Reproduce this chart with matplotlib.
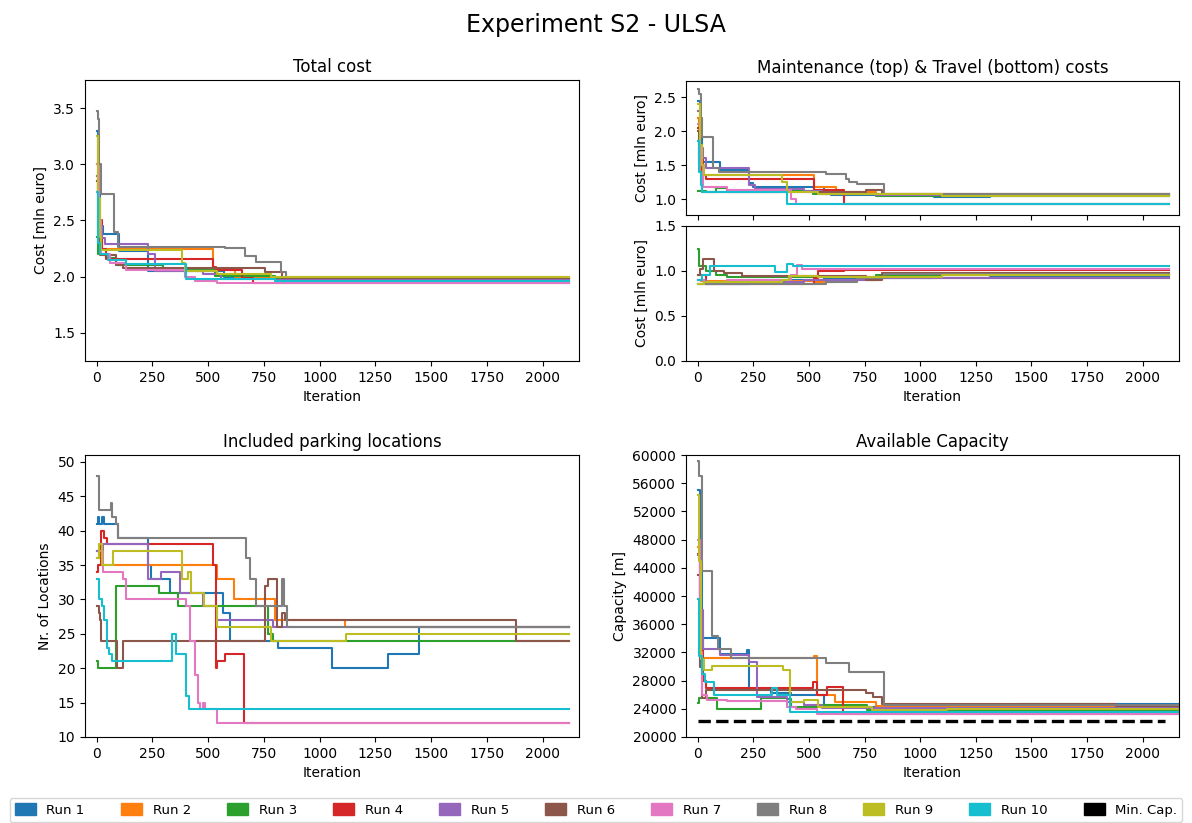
import matplotlib
matplotlib.use("Agg")
import matplotlib.pyplot as plt
import matplotlib.patches as mpatches
from matplotlib.ticker import MultipleLocator

# ---------------------------------------------------------------------------
# Best-so-far traces of the ten ULSA runs, stored as step breakpoints
# (iteration where the value changes, new value).
# ---------------------------------------------------------------------------
run_labels = [f"Run {i}" for i in range(1, 11)]
run_colors = [f"C{i}" for i in range(10)]
last_iter = 2118
cap_end_iter = 2200
min_capacity = 22300
min_cap_end = 2100

# Total cost [mln euro]
total_iters = [
    [0, 8, 15, 30, 102, 232, 570, 800],
    [0, 8, 15, 523, 620, 800],
    [0, 5, 40, 85, 300, 530, 800],
    [0, 10, 25, 42, 523, 535, 654, 700],
    [0, 10, 25, 37, 232, 260, 478, 560, 800],
    [0, 8, 15, 85, 120, 755, 830],
    [0, 10, 20, 60, 130, 396, 440, 540],
    [0, 5, 10, 20, 64, 80, 97, 575, 665, 717, 829, 851],
    [0, 8, 15, 22, 381, 395, 540, 780],
    [0, 5, 15, 50, 130, 403, 800],
]
total_vals = [
    [3.30, 2.75, 2.45, 2.38, 2.23, 2.05, 2.00, 1.975],
    [2.90, 2.40, 2.25, 2.06, 2.00, 1.99],
    [2.35, 2.20, 2.17, 2.10, 2.06, 2.01, 1.98],
    [3.00, 2.50, 2.25, 2.16, 2.09, 2.055, 1.99, 1.94],
    [2.90, 2.45, 2.34, 2.29, 2.20, 2.05, 2.02, 1.98, 1.97],
    [2.85, 2.40, 2.19, 2.10, 2.08, 2.04, 1.99],
    [3.00, 2.50, 2.20, 2.12, 2.06, 2.00, 1.96, 1.94],
    [3.47, 3.40, 3.00, 2.74, 2.74, 2.40, 2.265, 2.255, 2.18, 2.13, 2.04, 1.995],
    [3.25, 2.70, 2.35, 2.24, 2.12, 2.05, 2.02, 1.995],
    [2.75, 2.30, 2.20, 2.15, 2.11, 1.975, 1.965],
]

# Maintenance cost [mln euro]
maint_iters = [
    [0, 10, 22, 102, 232, 250, 570, 600, 1060, 1315],
    [0, 8, 15, 523, 620, 800],
    [0, 40, 85, 130, 380, 520, 800],
    [0, 10, 25, 37, 523, 657],
    [0, 10, 25, 40, 232, 260, 478, 560, 800],
    [0, 8, 20, 755, 830],
    [0, 10, 25, 130, 420, 440],
    [0, 8, 15, 22, 64, 70, 97, 575, 665, 680, 717, 837],
    [0, 10, 20, 30, 381, 400, 540, 1100],
    [0, 8, 15, 22, 403],
]
maint_vals = [
    [2.45, 1.90, 1.54, 1.43, 1.23, 1.18, 1.10, 1.06, 1.03, 1.05],
    [2.20, 1.60, 1.36, 1.18, 1.10, 1.07],
    [1.12, 1.11, 1.16, 1.10, 1.12, 1.08, 1.05],
    [2.05, 1.60, 1.35, 1.29, 1.13, 0.93],
    [2.30, 1.75, 1.60, 1.45, 1.20, 1.15, 1.12, 1.08, 1.06],
    [2.00, 1.50, 1.10, 1.14, 1.08],
    [2.10, 1.50, 1.17, 1.13, 1.00, 0.93],
    [2.62, 2.55, 2.20, 1.92, 1.92, 1.45, 1.40, 1.37, 1.30, 1.25, 1.22, 1.08],
    [2.40, 1.80, 1.50, 1.36, 1.25, 1.11, 1.08, 1.05],
    [1.85, 1.40, 1.20, 1.10, 0.93],
]

# Travel cost [mln euro]
travel_iters = [
    [0, 30, 232, 570, 1060, 1315],
    [0, 15, 523, 620, 800],
    [0, 5, 40, 85, 130, 800],
    [0, 37, 523, 543, 657],
    [0, 40, 232, 478, 800],
    [0, 10, 25, 72, 120, 200, 755, 830],
    [0, 30, 130, 420, 445, 470],
    [0, 64, 97, 575, 717, 837],
    [0, 30, 381, 410, 540, 1100],
    [0, 20, 57, 350, 403, 430],
]
travel_vals = [
    [0.85, 0.85, 0.90, 0.92, 0.95, 0.94],
    [0.90, 0.89, 0.88, 0.90, 0.92],
    [1.24, 1.05, 1.00, 0.95, 0.93, 0.95],
    [0.95, 0.86, 0.92, 1.00, 1.01],
    [0.90, 0.86, 0.88, 0.90, 0.92],
    [0.95, 1.02, 1.13, 1.00, 0.98, 0.94, 0.90, 0.975],
    [0.90, 0.88, 0.90, 0.96, 1.07, 1.025],
    [0.85, 0.85, 0.86, 0.88, 0.92, 0.97],
    [0.85, 0.88, 0.90, 0.94, 0.93, 0.95],
    [0.90, 0.95, 1.05, 0.99, 1.08, 1.055],
]

# Number of included parking locations
loc_iters = [
    [0, 5, 12, 25, 35, 97, 232, 245, 330, 568, 598, 815, 1056, 1307, 1446],
    [0, 20, 541, 617, 800, 1113],
    [0, 5, 85, 280, 363, 770, 790],
    [0, 8, 20, 35, 45, 520, 535, 540, 578, 660],
    [0, 30, 232, 291, 374, 478, 540, 790],
    [0, 10, 15, 22, 90, 120, 755, 770, 810, 830, 845, 1882],
    [0, 10, 30, 120, 134, 400, 420, 440, 455, 465, 475, 485, 538],
    [0, 10, 64, 70, 85, 97, 672, 690, 717, 830, 840, 852],
    [0, 10, 25, 75, 381, 410, 425, 480, 538, 784, 1120],
    [0, 10, 25, 35, 45, 55, 70, 336, 355, 403, 414],
]
loc_vals = [
    [41, 42, 41, 42, 41, 39, 35, 33, 31, 28, 24, 23, 20, 22, 26],
    [37, 35, 33, 30, 27, 26],
    [21, 20, 32, 31, 29, 25, 24],
    [34, 35, 40, 39, 38, 35, 20, 21, 22, 12],
    [37, 38, 33, 34, 31, 29, 27, 26],
    [29, 28, 27, 24, 20, 24, 32, 33, 26, 28, 27, 24],
    [36, 37, 34, 33, 30, 29, 24, 19, 15, 14, 15, 14, 12],
    [48, 43, 44, 42, 41, 39, 36, 33, 29, 33, 29, 26],
    [36, 38, 35, 37, 33, 34, 31, 29, 26, 24, 25],
    [33, 30, 29, 27, 23, 22, 21, 25, 22, 16, 14],
]

# Available capacity [m]
cap_iters = [
    [0, 10, 22, 100, 220, 232, 330, 420, 570, 800, 1446],
    [0, 10, 15, 523, 535, 617, 800],
    [0, 5, 87, 283, 400, 420, 560, 760],
    [0, 10, 25, 37, 520, 535, 580, 655],
    [0, 10, 25, 100, 232, 266, 400, 480, 560],
    [0, 10, 20, 37, 755, 790, 830, 1882],
    [0, 10, 20, 42, 130, 400, 440, 538],
    [0, 8, 20, 64, 90, 150, 575, 680, 837],
    [0, 8, 15, 30, 64, 386, 415, 480, 540, 784, 1120],
    [0, 8, 20, 35, 72, 333, 356, 415],
]
cap_vals = [
    [55000, 45000, 34000, 31800, 32400, 26800, 26200, 25900, 24300, 23900, 24700],
    [47000, 33000, 31200, 31500, 26000, 25000, 24400],
    [24800, 25500, 24000, 25600, 25400, 24300, 24500, 23800],
    [46000, 35000, 28000, 26900, 27800, 25900, 27100, 23200],
    [45800, 38000, 32500, 31600, 30600, 25700, 25000, 24500, 24100],
    [43000, 30000, 25600, 26700, 26200, 25700, 24700, 24400],
    [47900, 32000, 26000, 25300, 25100, 24300, 24000, 23200],
    [59200, 57000, 43600, 34300, 32500, 31250, 30550, 29200, 24600],
    [54300, 45000, 31000, 29500, 30100, 29500, 25000, 25200, 24300, 23800, 24000],
    [39600, 31500, 29000, 27800, 25900, 27000, 25900, 23500],
]


def draw_runs(ax, iters, vals, end):
    for it, v, c in zip(iters, vals, run_colors):
        ax.step(list(it) + [end], list(v) + [v[-1]], where="post",
                color=c, lw=1.5)


def style_x(ax, label=True):
    ax.set_xlim(-52, 2163)
    ax.xaxis.set_major_locator(MultipleLocator(250))
    if label:
        ax.set_xlabel("Iteration")
    else:
        ax.tick_params(labelbottom=False)


fig = plt.figure(figsize=(11.92, 8.23), dpi=100)

ax_tot = fig.add_axes([0.0713, 0.5614, 0.4144, 0.3414])
ax_mnt = fig.add_axes([0.5755, 0.7388, 0.4136, 0.1628])
ax_trv = fig.add_axes([0.5755, 0.5614, 0.4136, 0.1640])
ax_loc = fig.add_axes([0.0713, 0.1045, 0.4144, 0.3426])
ax_cap = fig.add_axes([0.5755, 0.1045, 0.4136, 0.3426])

# Total cost
draw_runs(ax_tot, total_iters, total_vals, last_iter)
ax_tot.set_ylim(1.25, 3.75)
ax_tot.yaxis.set_major_locator(MultipleLocator(0.5))
ax_tot.set_title("Total cost")
ax_tot.set_ylabel("Cost [mln euro]")
style_x(ax_tot)

# Maintenance (top) and travel (bottom)
draw_runs(ax_mnt, maint_iters, maint_vals, last_iter)
ax_mnt.set_ylim(0.765, 2.74)
ax_mnt.yaxis.set_major_locator(MultipleLocator(0.5))
ax_mnt.set_title("Maintenance (top) & Travel (bottom) costs")
ax_mnt.set_ylabel("Cost [mln euro]")
style_x(ax_mnt, label=False)

draw_runs(ax_trv, travel_iters, travel_vals, last_iter)
ax_trv.set_ylim(0, 1.5)
ax_trv.yaxis.set_major_locator(MultipleLocator(0.5))
ax_trv.set_ylabel("Cost [mln euro]")
style_x(ax_trv)

# Included parking locations
draw_runs(ax_loc, loc_iters, loc_vals, last_iter)
ax_loc.set_ylim(10, 51)
ax_loc.yaxis.set_major_locator(MultipleLocator(5))
ax_loc.set_title("Included parking locations")
ax_loc.set_ylabel("Nr. of Locations")
style_x(ax_loc)

# Available capacity
draw_runs(ax_cap, cap_iters, cap_vals, cap_end_iter)
ax_cap.plot([0, min_cap_end], [min_capacity, min_capacity], ls="--",
            color="black", lw=2.4)
ax_cap.set_ylim(20000, 60000)
ax_cap.yaxis.set_major_locator(MultipleLocator(4000))
ax_cap.set_title("Available Capacity")
ax_cap.set_ylabel("Capacity [m]")
style_x(ax_cap)

fig.suptitle("Experiment S2 - ULSA", fontsize=17, y=0.970, va="center")

handles = [mpatches.Patch(color=c, label=l) for c, l in zip(run_colors, run_labels)]
handles.append(mpatches.Patch(color="black", label="Min. Cap."))
fig.legend(handles=handles, loc="lower left", ncol=11, mode="expand",
           bbox_to_anchor=(0.008, 0.001, 0.984, 0.035), fontsize=9.5,
           handlelength=1.6, handleheight=1.0, borderaxespad=0.0)

fig.savefig("out.png", dpi=100)
